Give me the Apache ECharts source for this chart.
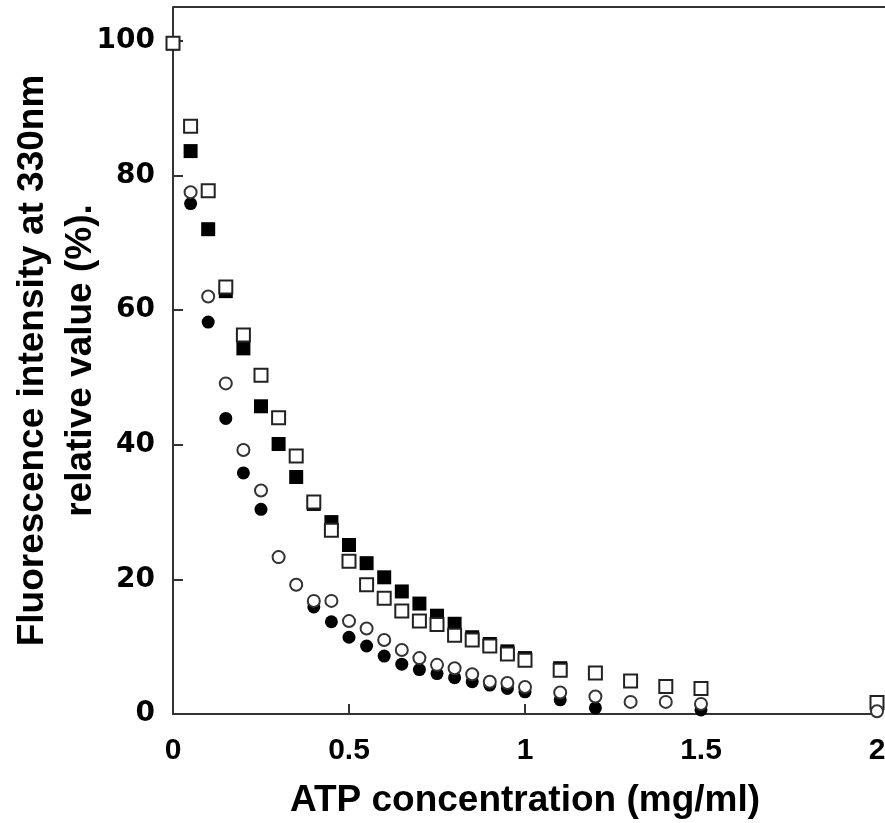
<!DOCTYPE html>
<html>
<head>
<meta charset="utf-8">
<script src="https://cdn.jsdelivr.net/npm/echarts@6/dist/echarts.min.js"></script>
<style>
html,body{margin:0;padding:0;background:#fff;}
#chart{width:885px;height:823px;}
</style>
</head>
<body>
<div id="chart"></div>
<script>
// ---- data ----
var xTicks = [0, 0.5, 1, 1.5, 2];
var yTicks = [0, 20, 40, 60, 80, 100];

var xOpenSquare = [0,0.05,0.1,0.15,0.2,0.25,0.3,0.35,0.4,0.45,0.5,0.55,0.6,0.65,0.7,0.75,0.8,0.85,0.9,0.95,1.0,1.1,1.2,1.3,1.4,1.5,2.0];
var openSquare  = [99.6,87.3,77.7,63.4,56.3,50.3,44.0,38.3,31.5,27.3,22.7,19.2,17.2,15.3,13.8,13.3,11.7,11.0,10.1,8.9,8.0,6.5,6.1,4.9,4.1,3.8,1.7];

var xFilledSquare = [0,0.05,0.1,0.15,0.2,0.25,0.3,0.35,0.4,0.45,0.5,0.55,0.6,0.65,0.7,0.75,0.8,0.85,0.9,0.95,1.0,1.1];
var filledSquare  = [99.6,83.6,72.0,62.8,54.3,45.7,40.1,35.2,31.2,28.5,25.1,22.4,20.3,18.2,16.4,14.6,13.4,11.4,10.4,9.3,8.3,6.8];

var xFilledCircle = [0.05,0.1,0.15,0.2,0.25,0.3,0.35,0.4,0.45,0.5,0.55,0.6,0.65,0.7,0.75,0.8,0.85,0.9,0.95,1.0,1.1,1.2,1.5];
var filledCircle  = [75.8,58.2,43.9,35.8,30.4,23.3,19.2,15.9,13.7,11.4,10.1,8.6,7.4,6.6,6.0,5.4,4.8,4.3,3.8,3.3,2.1,0.9,0.6];

var xOpenCircle = [0.05,0.1,0.15,0.2,0.25,0.3,0.35,0.4,0.45,0.5,0.55,0.6,0.65,0.7,0.75,0.8,0.85,0.9,0.95,1.0,1.1,1.2,1.3,1.4,1.5,2.0];
var openCircle  = [77.5,62.0,49.1,39.2,33.2,23.3,19.2,16.8,16.8,13.8,12.7,11.0,9.5,8.3,7.3,6.8,5.9,4.8,4.6,4.0,3.2,2.6,1.8,1.8,1.5,0.4];

var xTitle = 'ATP concentration (mg/ml)';
var yTitleLines = ['Fluorescence intensity at 330nm', 'relative value (%).'];

function pairs(xs, ys) { return xs.map(function (x, i) { return [x, ys[i]]; }); }

var FONT = "'Liberation Sans', Arial, sans-serif";
var axisColor = '#333';

var chart = echarts.init(document.getElementById('chart'), null, {renderer: 'canvas'});
chart.setOption({
  animation: false,
  backgroundColor: '#fff',
  grid: {left: 173, right: 8, top: 7, bottom: 109, containLabel: false, outerBoundsMode: 'none'},
  xAxis: {
    type: 'value', min: 0, max: 2, interval: 0.5,
    name: xTitle, nameLocation: 'middle', nameGap: 68,
    nameTextStyle: {fontFamily: FONT, fontWeight: 'bold', fontSize: 37, color: '#000'},
    axisLine: {show: true, onZero: false, lineStyle: {color: axisColor, width: 2}},
    axisTick: {show: true, inside: true, length: 10, lineStyle: {color: axisColor, width: 2},
      customValues: xTicks.slice(1, -1)},
    axisLabel: {fontFamily: FONT, fontWeight: 'bold', fontSize: 30, color: '#000', margin: 22,
      customValues: xTicks,
      formatter: function (v) { return String(v); }},
    splitLine: {show: false}
  },
  yAxis: {
    type: 'value', min: 0, max: 105, interval: 20,
    name: yTitleLines.join('\n'), nameLocation: 'middle', nameGap: 68, nameRotate: 90,
    nameMoveOverlap: false,
    nameTextStyle: {fontFamily: FONT, fontWeight: 'bold', fontSize: 37, color: '#000', lineHeight: 48},
    axisLine: {show: true, lineStyle: {color: axisColor, width: 2}},
    axisTick: {show: true, inside: true, length: 10, lineStyle: {color: axisColor, width: 2},
      customValues: yTicks.slice(1)},
    axisLabel: {fontFamily: "'DejaVu Sans', sans-serif", fontWeight: 'bold', fontSize: 28, color: '#000', margin: 18,
      customValues: yTicks},
    splitLine: {show: false}
  },
  graphic: [{
    type: 'line', silent: true,
    shape: {x1: 173, y1: 7, x2: 885, y2: 7},
    style: {stroke: axisColor, lineWidth: 2}
  }],
  series: [
    {type: 'scatter', name: 'filled square', data: pairs(xFilledSquare, filledSquare), symbol: 'rect', symbolSize: 14,
      itemStyle: {color: '#000', opacity: 1}, z: 2},
    {type: 'scatter', name: 'open square', data: pairs(xOpenSquare, openSquare), symbol: 'rect', symbolSize: 13,
      itemStyle: {color: '#fff', borderColor: '#222', borderWidth: 2, opacity: 1}, z: 3},
    {type: 'scatter', name: 'filled circle', data: pairs(xFilledCircle, filledCircle), symbol: 'circle', symbolSize: 13,
      itemStyle: {color: '#000', opacity: 1}, z: 4},
    {type: 'scatter', name: 'open circle', data: pairs(xOpenCircle, openCircle), symbol: 'circle', symbolSize: 12,
      itemStyle: {color: '#fff', borderColor: '#333', borderWidth: 2, opacity: 1}, z: 5}
  ]
});
</script>
</body>
</html>
